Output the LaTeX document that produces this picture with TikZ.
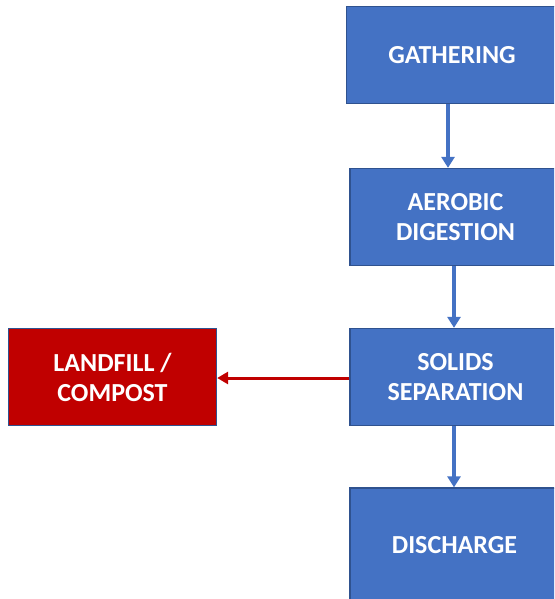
\documentclass[tikz,border=0pt]{standalone}
\usepackage{fontspec}
\setmainfont{Carlito}
\usetikzlibrary{arrows.meta}
\definecolor{boxblue}{HTML}{4472C4}
\definecolor{edgeblue}{HTML}{2F528F}
\definecolor{boxred}{HTML}{C00000}
\tikzset{
  lbl/.style={text=white, font=\fontsize{26}{30}\selectfont\bfseries, align=center},
  box/.style={lbl, draw=edgeblue, line width=1.3pt, fill=boxblue,
    minimum width=211pt, minimum height=97pt, inner sep=0pt},
  redbox/.style={box, fill=boxred, minimum width=208pt},
  barrow/.style={draw=boxblue, line width=3.5pt, -{Triangle[width=13pt,length=11pt]}},
  rarrow/.style={draw=boxred, line width=3pt, -{Triangle[width=12pt,length=11pt]}}
}
\begin{document}
\begin{tikzpicture}[x=1pt,y=-1pt]
\useasboundingbox (0,0) rectangle (554,599);
\clip (0,0) rectangle (554,599);
\node[box] (g) at (452,55) {GATHERING};
\node[box] (a) at (455.5,217) {AEROBIC\\DIGESTION};
\node[box] (s) at (455.5,377) {SOLIDS\\SEPARATION};
\node[box, minimum height=115pt] (d) at (455.5,545.5) {};
\node[lbl] (dt) at (454.5,545) {DISCHARGE};
\node[redbox] (l) at (112.5,377) {LANDFILL /\\COMPOST};
\coordinate (x1) at (448,0);
\coordinate (x2) at (454,0);
\coordinate (y1) at (0,378);
\draw[barrow] (g.south -| x1) -- (a.north -| x1);
\draw[barrow] (a.south -| x2) -- (s.north -| x2);
\draw[barrow] (s.south -| x2) -- (d.north -| x2);
\draw[rarrow] (s.west |- y1) -- (l.east |- y1);
\end{tikzpicture}
\end{document}
